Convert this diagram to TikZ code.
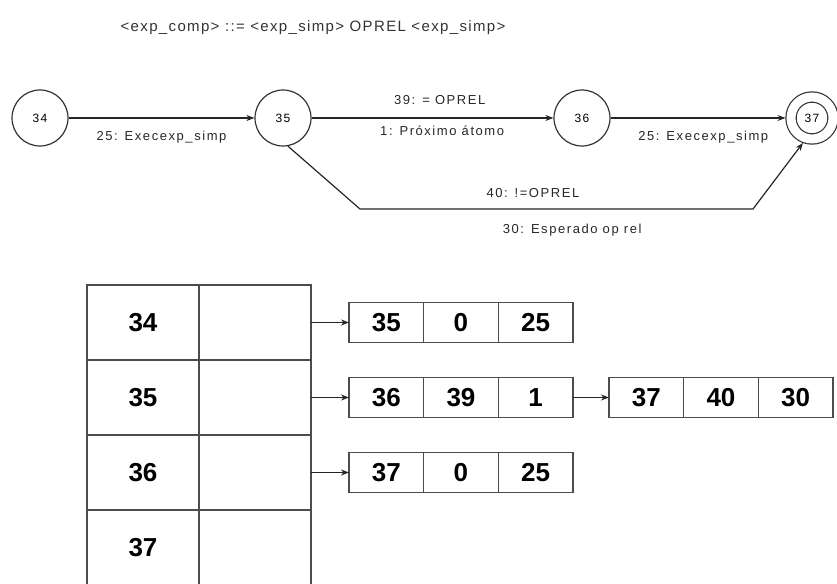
\documentclass[tikz,border=0pt]{standalone}
\usepackage{fontspec}
\setmainfont{Liberation Sans}
\newfontfamily\lblfont[LetterSpace=12]{Liberation Sans}
\newfontfamily\rulefont[LetterSpace=9]{Liberation Sans}
\usetikzlibrary{shapes.geometric, arrows.meta, positioning}
\tikzstyle{state} = [circle, draw=black!80, line width=1.2pt, minimum size=56pt, inner sep=0pt, font=\fontsize{12}{14}\lblfont]
\tikzstyle{final} = [state, minimum size=42pt, double, double distance=9pt, outer sep=5.5pt]
\tikzstyle{cell} = [rectangle, draw=black!70, line width=1.5pt, minimum width=112pt, minimum height=75pt, inner sep=0pt, outer sep=0pt, font=\fontsize{26}{28}\selectfont\bfseries]
\tikzstyle{field} = [cell, minimum width=74.67pt, minimum height=40pt]
\tikzstyle{arrow} = [line width=1.2pt, draw=black!85, -{Stealth[length=8pt,width=6pt]}]
\tikzstyle{edgelabel} = [font=\fontsize{13}{15}\lblfont, text=black!85, inner sep=0pt]

\begin{document}
\begin{tikzpicture}[x=1pt, y=-1pt]
    \useasboundingbox (0,0) rectangle (837,583);
    % Production rule
    \node[font=\fontsize{15}{17}\rulefont, text=black!80] (rule) at (313,28) {<exp\_comp> ::= <exp\_simp> OPREL <exp\_simp>};

    % States of the automaton
    \node[state] (s34) at (40,118) {34};
    \node[state] (s35) at (283,118) {35};
    \node[state] (s36) at (582,118) {36};
    \node[final] (s37) at (812,118) {37};
    \coordinate (b1) at (360,209);
    \coordinate (b2) at (753,209);

    % Transitions
    \draw[arrow] (s34) -- node[edgelabel, yshift=-19pt] {25: Execexp\_simp} (s35);
    \draw[arrow] (s35) -- node[edgelabel, pos=0.53, yshift=18pt] {39: = OPREL}
        node[edgelabel, pos=0.54, yshift=-13pt] {1: Próximo átomo} (s36);
    \draw[arrow] (s36) -- node[edgelabel, pos=0.53, yshift=-19pt] {25: Execexp\_simp} (s37);
    \draw[arrow] (s35.280) -- (b1) -- node[edgelabel, pos=0.44, yshift=16pt] {40: !=OPREL}
        node[edgelabel, pos=0.54, yshift=-21pt] {30: Esperado op rel} (b2) -- (s37.250);

    % Table of states
    \foreach \s [count=\i from 0] in {34,35,36,37} {
        \node[cell] (c\s) at (143,322.5+75*\i) {\s};
        \node[cell, right=0pt of c\s] (p\s) {};
    }

    % Transition records
    \node[field] (t1a) at (386.3,322.5) {35};
    \node[field, right=0pt of t1a] (t1b) {0};
    \node[field, right=0pt of t1b] (t1c) {25};
    \node[field] (t2a) at (386.3,397.5) {36};
    \node[field, right=0pt of t2a] (t2b) {39};
    \node[field, right=0pt of t2b] (t2c) {1};
    \node[field] (t3a) at (386.3,472.5) {37};
    \node[field, right=0pt of t3a] (t3b) {0};
    \node[field, right=0pt of t3b] (t3c) {25};
    \node[field] (t4a) at (646.3,397.5) {37};
    \node[field, right=0pt of t4a] (t4b) {40};
    \node[field, right=0pt of t4b] (t4c) {30};

    % Pointers
    \draw[arrow] (p34.east) -- (t1a.west);
    \draw[arrow] (p35.east) -- (t2a.west);
    \draw[arrow] (p36.east) -- (t3a.west);
    \draw[arrow] (t2c.east) -- (t4a.west);
\end{tikzpicture}
\end{document}
